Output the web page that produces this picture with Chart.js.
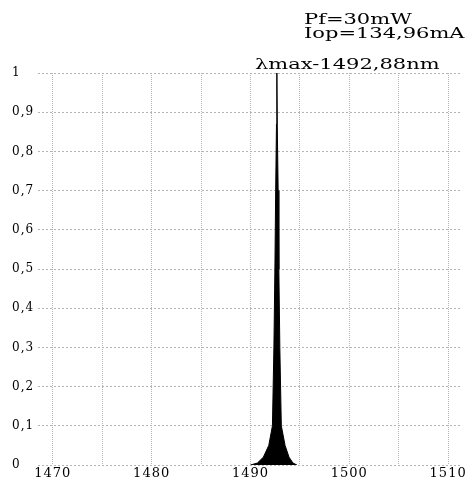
<!DOCTYPE html>
<html><head><meta charset="utf-8">
<script src="https://cdn.jsdelivr.net/npm/chart.js@4/dist/chart.umd.min.js"></script>
<style>html,body{margin:0;padding:0;background:#fff}#wrap{width:474px;height:481px}</style>
</head><body><div id="wrap"><canvas id="c" width="474" height="481"></canvas></div>
<script>
const wavelengths = [1490.0, 1490.7, 1491.3, 1491.85, 1492.22, 1492.37, 1492.47, 1492.55, 1492.63, 1492.67, 1492.71, 1492.80, 1492.87, 1492.97, 1493.12, 1493.5, 1493.9, 1494.3, 1494.7];
const intensity   = [0, 0.005, 0.02, 0.05, 0.1, 0.3, 0.5, 0.7, 0.87, 1.0, 0.87, 0.7, 0.5, 0.3, 0.1, 0.05, 0.02, 0.005, 0];
const xTicks = [1470, 1475, 1480, 1485, 1490, 1495, 1500, 1505, 1510];
const yTicks = [0, 0.1, 0.2, 0.3, 0.4, 0.5, 0.6, 0.7, 0.8, 0.9, 1];
const notes = ["Pf=30mW", "Iop=134,96mA", "λmax-1492,88nm"];

const FONT = "'DejaVu Serif', serif";
const points = wavelengths.map((x, i) => ({x, y: intensity[i]}));

const textPlugin = {
  id: 'notes',
  beforeDraw(chart) { chart.ctx.letterSpacing = '1px'; },
  afterDraw(chart) {
    const ctx = chart.ctx;
    ctx.letterSpacing = '0px';
    ctx.save();
    ctx.fillStyle = '#000';
    ctx.font = "15px " + FONT;
    ctx.textBaseline = 'alphabetic';
    ctx.textAlign = 'left';
    const sx = 1.4;
    ctx.scale(sx, 1);
    ctx.fillText(notes[0], 304 / sx, 24);
    ctx.fillText(notes[1], 304 / sx, 38);
    ctx.fillText(notes[2], 255 / sx, 69);
    ctx.restore();
  }
};

new Chart(document.getElementById('c'), {
  type: 'line',
  data: { datasets: [{
    data: points,
    borderColor: '#000',
    backgroundColor: '#000',
    borderWidth: 1,
    fill: 'origin',
    pointRadius: 0,
    tension: 0
  }]},
  options: {
    responsive: false,
    animation: false,
    layout: { padding: { top: 73, right: 14, left: 12, bottom: 0 } },
    plugins: { legend: { display: false }, tooltip: { enabled: false } },
    scales: {
      x: {
        type: 'linear', min: 1468.5, max: 1511.2,
        afterBuildTicks: s => { s.ticks = xTicks.map(v => ({value: v})); },
        afterFit: s => { s.height = 16; },
        border: { display: false, dash: [1, 1] },
        grid: { color: '#b4b4b4', drawTicks: false, lineWidth: 1 },
        ticks: { callback: v => (v % 10 === 0 ? String(v) : ''), color: '#000', font: { family: FONT, size: 13 }, padding: 1, maxRotation: 0, autoSkip: false }
      },
      y: {
        type: 'linear', min: 0, max: 1,
        afterBuildTicks: s => { s.ticks = yTicks.map(v => ({value: v})); },
        afterFit: s => { s.width = 26; },
        border: { display: false, dash: [2, 2] },
        grid: { color: '#b4b4b4', drawTicks: false, lineWidth: 1 },
        ticks: { callback: v => String(Math.round(v * 10) / 10).replace('.', ','), color: '#000', font: { family: FONT, size: 12 }, crossAlign: 'far', padding: 0 }
      }
    }
  },
  plugins: [textPlugin]
});
</script>
</body></html>
